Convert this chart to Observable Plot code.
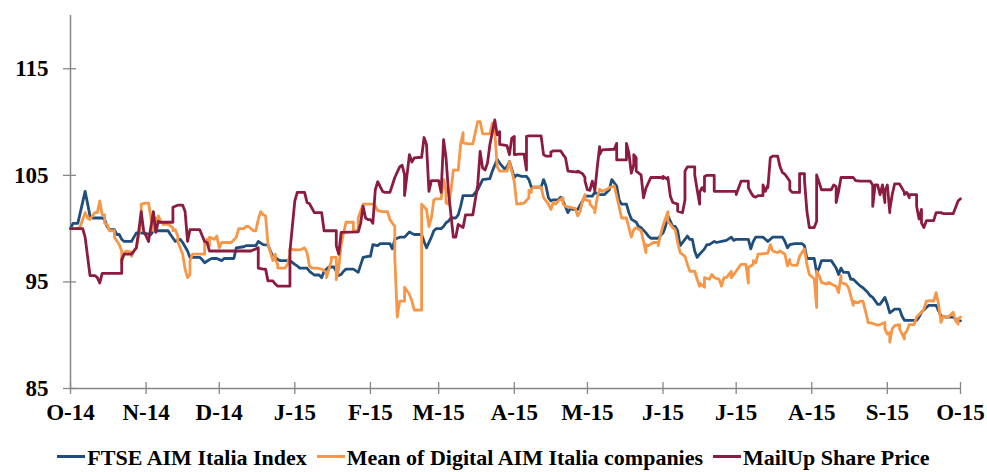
<!DOCTYPE html>
<html>
<head>
<meta charset="utf-8">
<script src="https://cdn.jsdelivr.net/npm/d3@7"></script>
<script src="https://cdn.jsdelivr.net/npm/@observablehq/plot@0.6"></script>
<style>
  html, body { margin: 0; padding: 0; background: #fff; }
  #wrap { position: relative; width: 987px; height: 472px; overflow: hidden; }
  #legend { position: absolute; left: 0; top: 446px; width: 987px; display: flex; justify-content: center;
            font-family: "Liberation Serif", serif; font-weight: bold; font-size: 22px; line-height: 24px; color: #000; white-space: nowrap; }
  .item { display: inline-flex; align-items: baseline; margin: 0 5px; }
  .sw { display: inline-block; width: 28px; height: 3px; margin-right: 2px; position: relative; top: -7px; }
</style>
</head>
<body>
<div id="wrap"><div id="chart"></div><div id="legend"></div></div>
<script>
// Day offsets are days since 1 Oct 2014
const seriesNames = ["FTSE AIM Italia Index", "Mean of Digital AIM Italia companies", "MailUp Share Price"];
const seriesColors = ["#1F4E7D", "#F79646", "#8C1C3F"];
const yTicks = [85, 95, 105, 115];
const tickMonths = ["2014-10-01","2014-11-01","2014-12-01","2015-01-01","2015-02-01","2015-03-01","2015-04-01","2015-05-01","2015-06-01","2015-07-01","2015-08-01","2015-09-01","2015-10-01"];
const monthLabels = ["O-14","N-14","D-14","J-15","F-15","M-15","A-15","M-15","J-15","J-15","A-15","S-15","O-15"];

const ftse = [[0,100],[1,100.5],[3,100.5],[6,103.5],[8,101.2],[9,101],[13,101],[14,100.85],[15,100.2],[16,99.9],[18,99.9],[19,99.45],[20,99.45],[21,99],[22,98.8],[25,98.8],[26,99.2],[27,99.6],[29,99.6],[33,99.45],[34,99.8],[40,99.8],[41,99.45],[43,98.8],[45,99],[46,98.7],[48,97.9],[49,97.3],[53,97.3],[54,97.1],[55,96.8],[57,97.1],[58,97.2],[60,97.2],[62,97],[63,97.2],[67,97.2],[68,98.2],[71,98.3],[72,98.4],[76,98.4],[77,98.8],[79,98.5],[81,98.45],[82,97.9],[83,97.4],[84,97.3],[85,97.1],[86,97],[90,97],[92,96.65],[93,96.5],[94,96.3],[97,96.3],[98,96],[100,95.65],[102,95.65],[103,95.4],[104,96],[105,96.2],[106,96.4],[108,96.4],[109,96],[110,95.6],[111,95.7],[112,96],[113,96.2],[116,96.2],[118,95.9],[119,96.6],[120,97.3],[122,97.4],[123,97.4],[124,98.5],[126,98.4],[127,98.6],[131,98.6],[132,98.1],[133,99],[135,99.2],[137,99.2],[139,99.7],[140,99.55],[141,99.45],[144,99.45],[145,98.8],[146,98.2],[148,99.2],[149,99.8],[150,100],[152,100],[153,100.2],[154,100.55],[155,100.7],[156,101],[158,101],[159,101.3],[160,102.1],[161,103.1],[165,103.1],[167,103.65],[168,104.1],[169,104.6],[172,104.7],[173,105.4],[175,106.5],[176,106.15],[178,105.6],[179,105.8],[180,106.3],[182,104.8],[183,105.05],[185,104.9],[187,104.9],[188,104.6],[189,103.9],[193,103.9],[194,104.6],[195,104],[196,102.9],[197,102.6],[198,102.7],[200,102.7],[201,102.95],[202,102.6],[204,101.5],[205,101.9],[206,101.8],[208,101.8],[210,102.6],[211,103.05],[214,103.05],[215,103.4],[217,103.2],[219,103.2],[221,103.65],[222,104.6],[224,104],[225,102.7],[226,102.3],[228,102.3],[229,101.5],[230,100.9],[232,100.6],[233,100.2],[234,100.1],[236,99.6],[237,99.3],[238,99.1],[241,99.1],[243,99.6],[244,100.2],[245,101.2],[247,100.2],[248,100.2],[249,99.8],[250,98.4],[252,99],[253,99.3],[254,99],[255,99],[256,97.9],[257,97.3],[258,97.6],[260,98.1],[261,98.5],[262,98.5],[264,98.8],[265,98.7],[267,98.8],[269,98.9],[271,99.2],[272,98.9],[273,99],[276,99],[278,99],[279,98.1],[280,98.8],[281,99.2],[284,99.2],[286,98.8],[287,99],[288,99.2],[292,99.2],[293,98.8],[294,98.2],[295,98.5],[297,98.6],[300,98.6],[301,98.4],[302,97.2],[305,97.2],[306,95.9],[307,96.3],[308,97],[312,97],[314,96.3],[315,95.7],[316,96.3],[317,95.9],[319,95.9],[320,95.25],[321,95.25],[323,94.8],[324,94.6],[325,94.45],[327,94],[328,93.7],[329,93.55],[331,92.9],[332,92.9],[334,93.55],[335,92.9],[336,92.1],[338,92.45],[340,92.45],[341,91.8],[342,91.4],[347,91.4],[348,91.7],[349,92.15],[351,92.6],[352,92.8],[355,92.8],[356,92.3],[357,91.8],[359,91.7],[362,91.7],[364,91.35],[365,91.35]];

const digital = [[0,100],[3,100],[4,100.2],[5,100.85],[6,101.5],[7,101],[8,100.85],[9,101.2],[10,101.5],[11,101.5],[12,102.6],[13,101.3],[14,101.3],[14,100.5],[15,100.4],[16,99.8],[18,99.8],[18,99.2],[20,98.5],[21,97.9],[21,96.8],[22,97.75],[23,97.9],[25,97.8],[25,97.4],[26,97.9],[27,98.2],[28,99.45],[29,100.55],[29,102.3],[31,102.4],[32,102.4],[33,101],[34,99.8],[34,100.1],[35,101],[36,100.55],[36,101.2],[37,100.7],[38,100.4],[40,100.4],[42,100.1],[42,99.8],[43,99.9],[44,99.3],[44,98.8],[46,97.6],[47,96.2],[48,95.4],[49,95.7],[49,97],[50,97.6],[55,97.6],[55,98.7],[56,99],[57,98.4],[57,99.2],[59,99],[60,99.3],[61,98.2],[62,98.7],[66,98.7],[68,99.2],[69,100],[71,100],[72,100.2],[73,100.2],[75,99.8],[76,99.8],[77,100.85],[78,101.6],[79,101.3],[80,101.2],[81,98.5],[83,97],[84,97.6],[84,97.1],[85,96.65],[85,96.3],[88,96.3],[89,96.65],[90,97.6],[90,98.1],[92,98],[94,98],[96,98.2],[97,97.75],[98,96.5],[99,96.3],[101,96.3],[103,96.2],[105,95.9],[105,95.4],[107,97],[107,97.3],[109,97.3],[109,95.2],[110,96.3],[111,98.5],[112,99.6],[113,100.6],[116,100.6],[116,99.8],[118,99.8],[118,101],[120,102.3],[124,102.3],[125,102.1],[126,101.7],[128,101.6],[130,101.6],[131,100.85],[133,100.2],[133,97.3],[134,91.7],[135,93.2],[137,93.2],[137,94.5],[139,93.85],[140,93.2],[141,92.35],[144,92.35],[144,102.3],[146,101.8],[147,100.2],[148,101],[149,102.7],[150,102.8],[152,102.8],[153,104.6],[154,103.5],[154,102.4],[155,102.3],[156,103.5],[157,105.5],[159,105.5],[160,107.9],[161,109],[161,108.05],[163,107.95],[165,107.95],[167,110.05],[168,110.05],[169,108.9],[172,108.9],[173,109.9],[174,109.1],[175,105.8],[176,105.4],[179,105.4],[180,106.3],[181,105.4],[182,104.4],[183,102.3],[186,102.4],[188,102.9],[188,103.6],[189,103.4],[189,103.7],[190,103.9],[193,103.9],[194,102.9],[196,102.3],[197,101.8],[198,102.45],[199,102.3],[200,102.6],[202,102.9],[202,102.3],[203,102.1],[207,101.9],[208,101.2],[209,101.6],[210,102.6],[211,103.2],[211,102.7],[213,102.6],[213,102.3],[215,101.8],[215,101.5],[216,102.9],[217,103.7],[218,103.5],[220,103.7],[221,103.85],[223,104],[224,103.05],[226,101],[228,101],[229,100.1],[230,99.2],[231,99.9],[232,100.1],[234,99.8],[235,98.8],[236,97.75],[236,98.5],[237,98.4],[239,98.7],[241,98.7],[241,98.4],[242,99.45],[243,100.3],[245,101.6],[245,100.7],[247,100.1],[248,99.9],[249,98.7],[250,97.75],[252,97.4],[253,96.65],[254,96],[256,96],[257,95.25],[258,94.6],[258,94.9],[260,94.5],[260,95.4],[262,95.25],[263,95.7],[264,95.4],[266,95.25],[267,94.6],[268,95.4],[269,95.4],[271,96],[271,95.4],[273,96],[274,96.35],[275,96.65],[277,96.65],[278,94.9],[278,96.35],[280,96.65],[280,97],[281,96.8],[282,97.6],[286,97.7],[287,98.5],[288,97.9],[290,97.75],[291,97.9],[293,97.6],[294,96.5],[295,97.1],[295,96.8],[296,96.55],[298,96.55],[299,97.4],[301,98.1],[302,96.65],[303,95.7],[305,95.3],[306,92.6],[306,96],[307,95.6],[308,94.95],[310,94.8],[311,94.95],[312,94.8],[314,94.6],[315,94],[316,95.6],[316,94.95],[318,94.8],[319,94.5],[320,93.7],[321,92.8],[321,93.2],[323,93.05],[324,93.2],[325,93.2],[327,91.35],[327,91.2],[329,91.1],[331,90.95],[332,91],[334,91.2],[334,90.6],[335,90.1],[336,90.25],[336,89.35],[337,90.6],[338,90.9],[340,91],[340,90.6],[342,89.65],[342,90.1],[343,90.4],[344,91],[346,91],[347,91.7],[349,92.15],[350,92.45],[351,93.2],[353,93.25],[354,93.2],[355,94],[356,92.9],[357,91.2],[358,91.8],[360,91.7],[362,92.15],[363,91.35],[364,91.05],[364,91.55],[365,91.7]];

const mailup = [[0,100],[5,100],[6,99.2],[8,95.6],[10,95.6],[11,95.4],[12,94.9],[13,95.8],[21,95.8],[21,97.1],[22,97.6],[25,97.6],[26,97.9],[27,98.2],[28,99.8],[29,101.6],[30,99.8],[32,98.8],[34,101.6],[35,99.65],[36,100.7],[36,100.6],[42,100.6],[42,102],[44,102.2],[46,102.2],[47,101.6],[48,98.8],[49,99.9],[53,99.9],[55,98.8],[56,98.7],[57,97.9],[74,97.9],[77,98.2],[77,96.3],[79,96.2],[80,96.2],[81,95.1],[83,95.1],[84,94.8],[85,94.6],[90,94.6],[90,97.9],[92,102.6],[93,103.4],[96,103.4],[97,102.45],[98,102.35],[100,101.5],[103,101.5],[104,99.8],[109,99.8],[109,98.4],[110,97.6],[111,99.65],[118,99.7],[119,100.5],[120,102.1],[121,101],[122,100.85],[123,100.85],[124,100.5],[125,103.65],[126,104.4],[128,103.5],[129,103.4],[131,103.4],[132,104.1],[133,104.8],[135,105.8],[136,105.95],[137,105.05],[137,103.1],[139,106.95],[140,106.25],[141,106.65],[144,106.7],[145,108.55],[146,107.9],[147,103.5],[148,104.5],[151,104.5],[152,103.4],[153,108.35],[154,106.65],[155,103.5],[157,99.2],[158,99.2],[159,100.4],[161,100.1],[162,101.3],[165,101.3],[167,104.1],[168,107.25],[169,105.7],[170,105.5],[171,106.15],[172,107.9],[174,110.2],[175,108.8],[176,109.1],[176,107.9],[179,107.8],[180,106.95],[181,108.5],[182,108.65],[182,106.95],[184,107],[186,107],[187,105.5],[187,108.65],[188,108.7],[193,108.7],[194,106.95],[195,106.8],[197,106.8],[197,107.2],[198,107.3],[201,107.3],[202,106.95],[203,106.65],[204,105.4],[208,105.3],[208,105.4],[210,105.15],[211,104.8],[211,104.45],[212,103.65],[213,103.6],[214,104.45],[215,103.65],[215,103.5],[216,105.7],[217,107.7],[217,106.95],[218,107.4],[223,107.45],[224,108],[224,106.45],[228,106.45],[228,108],[229,107.1],[230,105.2],[231,106],[231,106.95],[232,106.65],[232,105.4],[234,105.05],[235,102.9],[236,103.8],[238,104.8],[242,104.8],[243,104.7],[243,104.9],[245,104.6],[245,104.8],[246,103.05],[247,102.45],[249,102.3],[249,101.65],[251,101.5],[252,102.7],[252,105.4],[253,105.8],[256,105.8],[256,105.05],[257,103.65],[258,102.3],[258,103.4],[259,103.85],[260,103.5],[260,104.9],[261,105],[264,105],[264,103.5],[273,103.5],[273,103.2],[275,104.45],[278,104.45],[278,103.85],[279,103.4],[280,103.05],[281,102.95],[282,103.1],[284,103.1],[284,104.1],[285,103.5],[286,104.1],[286,103.85],[287,106.65],[288,106.8],[290,106.8],[291,105.8],[292,105.25],[293,105.1],[295,104.45],[295,103.65],[296,103.4],[299,103.4],[299,105.15],[301,105.15],[301,104.6],[302,101.65],[303,100.1],[305,100.1],[306,100.7],[306,105.05],[308,103.65],[312,103.65],[313,104.1],[314,103.95],[314,102.45],[315,103.5],[316,104.8],[321,104.8],[322,104.5],[324,104.45],[328,104.45],[329,104.1],[329,102.1],[330,104.1],[331,104.1],[332,103.2],[333,104.1],[334,102.45],[334,103.5],[335,104.1],[336,101.5],[336,101.8],[337,103.2],[338,104.2],[340,104.2],[342,103.4],[342,103.2],[343,103.4],[344,102.9],[344,103.2],[347,103.2],[347,102.1],[348,100.9],[349,101.8],[349,100.55],[350,100.1],[351,100.75],[354,100.75],[355,101.5],[357,101.5],[358,101.4],[362,101.4],[364,102.6],[365,102.8]];

const start = Date.UTC(2014, 9, 1);
const toDate = d => new Date(start + d * 864e5);
const allSeries = [ftse, digital, mailup];
const rows = allSeries.flatMap((s, k) => s.map(([d, v], i) => ({date: toDate(d), value: v, series: seriesNames[k], order: i})));
const tickDates = tickMonths.map(s => new Date(s + "T00:00:00Z"));
const labelMap = new Map(tickDates.map((d, i) => [+d, monthLabels[i]]));

const axisColor = "#868686";
const chart = Plot.plot({
  width: 987,
  height: 440,
  marginLeft: 70,
  marginRight: 27,
  marginTop: 15,
  marginBottom: 52,
  x: {type: "utc", domain: [toDate(0), toDate(365)], label: null},
  y: {domain: [85, 120], label: null},
  style: {fontFamily: "'Liberation Serif', serif", fontWeight: "bold", fontSize: "23px", color: "#000", background: "#fff", overflow: "visible"},
  marks: [
    Plot.axisY({ticks: yTicks, tickSize: 13, dx: 6, tickFormat: () => "", label: null, stroke: axisColor, strokeWidth: 1.3}),
    Plot.axisY({ticks: yTicks, tickSize: 0, tickPadding: 22, label: null, fill: "#000"}),
    Plot.axisX({ticks: tickDates, tickSize: 12, dy: -6, tickFormat: () => "", label: null, stroke: axisColor, strokeWidth: 1.3}),
    Plot.axisX({ticks: tickDates, tickSize: 0, tickPadding: 15, tickFormat: d => labelMap.get(+d), label: null, fill: "#000"}),
    Plot.ruleY([85], {stroke: axisColor, strokeWidth: 1.5}),
    Plot.ruleX([toDate(0)], {stroke: axisColor, strokeWidth: 1.5}),
    ...seriesNames.map((name, k) => Plot.line(rows.filter(r => r.series === name), {
      x: "date", y: "value", stroke: seriesColors[k], strokeWidth: 2.8, strokeLinejoin: "round", curve: "linear"
    }))
  ]
});
document.getElementById("chart").appendChild(chart);

const legend = d3.select("#legend");
seriesNames.forEach((name, k) => {
  const item = legend.append("span").attr("class", "item");
  item.append("span").attr("class", "sw").style("background", seriesColors[k]);
  item.append("span").text(name);
});
</script>
</body>
</html>
